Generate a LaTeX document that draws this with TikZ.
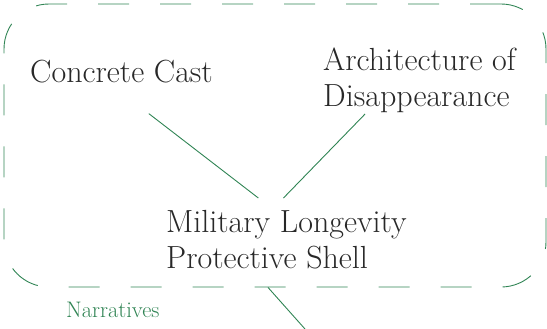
\documentclass[tikz,border=0pt]{standalone}
\usetikzlibrary{positioning, calc}
\definecolor{narrgreen}{RGB}{48,132,84}
\definecolor{inkgray}{RGB}{40,40,40}

\begin{document}
\begin{tikzpicture}[x=1pt,y=-1pt,
    label/.style={inner sep=0pt, text=inkgray, font=\fontsize{32}{36}\selectfont, align=left},
    link/.style={narrgreen, line width=0.9pt}]
    \useasboundingbox (0,0) rectangle (547,329);

    % dashed frame
    \node[draw=narrgreen, line width=0.9pt, rounded corners=45pt, dash pattern=on 31pt off 31pt,
          minimum width=542pt, minimum height=283pt, inner sep=0pt] (frame) at (275,145.5) {};

    % labels
    \node[label, anchor=base west] (cast) at (30,83) {Concrete Cast};
    \node[label, anchor=north west] (arch) at (323,48) {Architecture of\\Disappearance};
    \node[label, anchor=north west] (military) at (166,210) {Military Longevity\\Protective Shell};
    \node[inner sep=0pt, anchor=base west, text=narrgreen, font=\fontsize{22.5}{26}\selectfont] (narr) at (66,317) {Narratives};

    % connectors
    \coordinate (out) at (305,329);
    \draw[link, shorten <=49pt, shorten >=19.6pt] ([xshift=-11.5pt]cast.south) -- ([xshift=-12.5pt]military.north);
    \draw[link, shorten <=1pt, shorten >=16.7pt] ([xshift=42.8pt]arch.south west) -- ([xshift=-14.6pt]military.north);
    \draw[link] ([xshift=-7pt]frame.south) -- (out);
\end{tikzpicture}
\end{document}
